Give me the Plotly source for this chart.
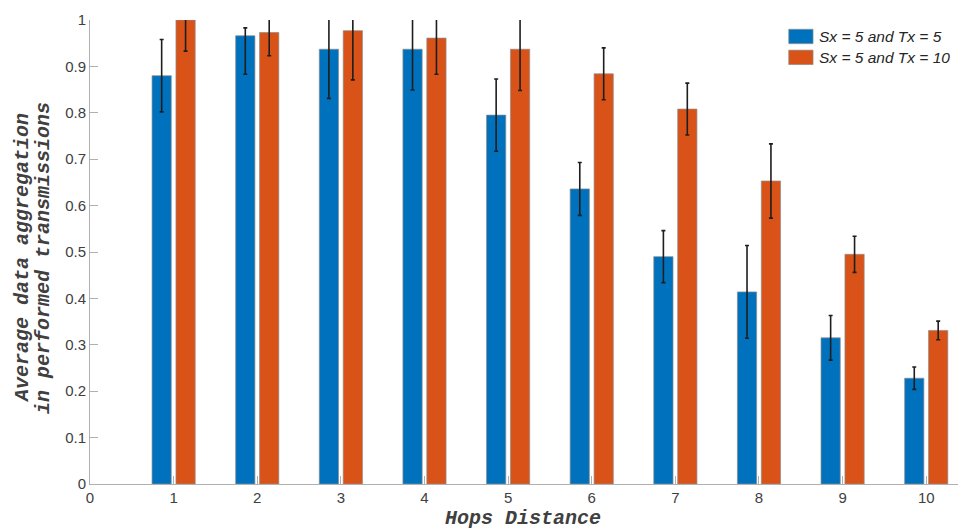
import plotly.graph_objects as go

# Hop distances on the x axis
hops = [1, 2, 3, 4, 5, 6, 7, 8, 9, 10]

# Sx = 5 and Tx = 5
series_a_name = "Sx = 5 and Tx = 5"
series_a = [0.880, 0.966, 0.937, 0.937, 0.795, 0.636, 0.490, 0.414, 0.315, 0.228]
series_a_err_plus = [0.078, 0.017, 0.106, 0.088, 0.078, 0.057, 0.056, 0.100, 0.048, 0.024]
series_a_err_minus = [0.078, 0.083, 0.106, 0.088, 0.078, 0.057, 0.056, 0.100, 0.048, 0.024]

# Sx = 5 and Tx = 10
series_b_name = "Sx = 5 and Tx = 10"
series_b = [1.000, 0.973, 0.977, 0.961, 0.937, 0.884, 0.808, 0.653, 0.495, 0.331]
series_b_err_plus = [0.067, 0.050, 0.106, 0.078, 0.089, 0.056, 0.056, 0.080, 0.039, 0.020]
series_b_err_minus = [0.067, 0.050, 0.106, 0.078, 0.089, 0.056, 0.056, 0.080, 0.039, 0.020]

y_ticks = [0, 0.1, 0.2, 0.3, 0.4, 0.5, 0.6, 0.7, 0.8, 0.9, 1]
y_tick_labels = ["0", "0.1", "0.2", "0.3", "0.4", "0.5", "0.6", "0.7", "0.8", "0.9", "1"]
x_ticks = [0, 1, 2, 3, 4, 5, 6, 7, 8, 9, 10]

BLUE = "#0072BD"
ORANGE = "#D95319"
AXIS_GREY = "#b0b0b0"
TEXT_GREY = "#404040"
BAR_W = 0.23

fig = go.Figure()

def add_series(vals, plus, minus, color, offset, name):
    fig.add_trace(go.Bar(
        x=hops, y=vals, name=name, width=BAR_W, offset=offset,
        marker=dict(color=color, line=dict(color="rgba(140,140,140,0.7)", width=1)),
        error_y=dict(type="data", symmetric=False, array=plus, arrayminus=minus,
                     color="#1e1e1e", thickness=1.6, width=2),
        showlegend=False,
    ))

add_series(series_a, series_a_err_plus, series_a_err_minus, BLUE, -0.143 - BAR_W / 2, series_a_name)
add_series(series_b, series_b_err_plus, series_b_err_minus, ORANGE, 0.143 - BAR_W / 2, series_b_name)

# Legend drawn as swatches and labels in the upper right corner
legend_items = [(series_a_name, BLUE, 0.980, 0.949), (series_b_name, ORANGE, 0.935, 0.904)]
for label, color, y1, y0 in legend_items:
    fig.add_shape(type="rect", xref="paper", yref="paper", x0=0.805, x1=0.833, y0=y0, y1=y1,
                  fillcolor=color, line=dict(color="rgba(140,140,140,0.7)", width=1))
    fig.add_annotation(xref="paper", yref="paper", x=0.837, y=(y0 + y1) / 2,
                       xanchor="left", yanchor="middle", showarrow=False, text=label,
                       font=dict(family="Liberation Sans", size=15.5, color="#262626", style="italic"))

title_font = dict(family="Liberation Mono", size=20, color=TEXT_GREY, style="italic", weight="bold")
fig.add_annotation(xref="paper", yref="paper", x=(22 - 90) / 868, y=0.487, xanchor="center",
                   yanchor="middle", textangle=-90, showarrow=False,
                   text="Average data aggregation", font=title_font)
fig.add_annotation(xref="paper", yref="paper", x=(43 - 90) / 868, y=0.487, xanchor="center",
                   yanchor="middle", textangle=-90, showarrow=False,
                   text="in performed transmissions", font=title_font)
fig.add_annotation(xref="paper", yref="paper", x=0.499, y=(484 - 518) / 464, xanchor="center",
                   yanchor="middle", showarrow=False, text="Hops Distance", font=title_font)

fig.update_layout(
    width=960, height=529,
    margin=dict(l=90, r=2, t=20, b=45),
    paper_bgcolor="white", plot_bgcolor="white",
    barmode="overlay",
    font=dict(family="Liberation Sans", size=14, color=TEXT_GREY),
    xaxis=dict(range=[0, 10.38], tickvals=x_ticks, showgrid=False, zeroline=False,
               showline=True, linecolor=AXIS_GREY, linewidth=1,
               ticks="inside", ticklen=8, tickcolor=AXIS_GREY, tickwidth=1,
               tickfont=dict(size=15, color=TEXT_GREY)),
    yaxis=dict(range=[0, 1], tickvals=y_ticks, ticktext=y_tick_labels, showgrid=False,
               zeroline=False, showline=True, linecolor=AXIS_GREY, linewidth=1,
               ticks="inside", ticklen=8, tickcolor=AXIS_GREY, tickwidth=1,
               tickfont=dict(size=15, color=TEXT_GREY)),
)

fig.write_html("out.html")
